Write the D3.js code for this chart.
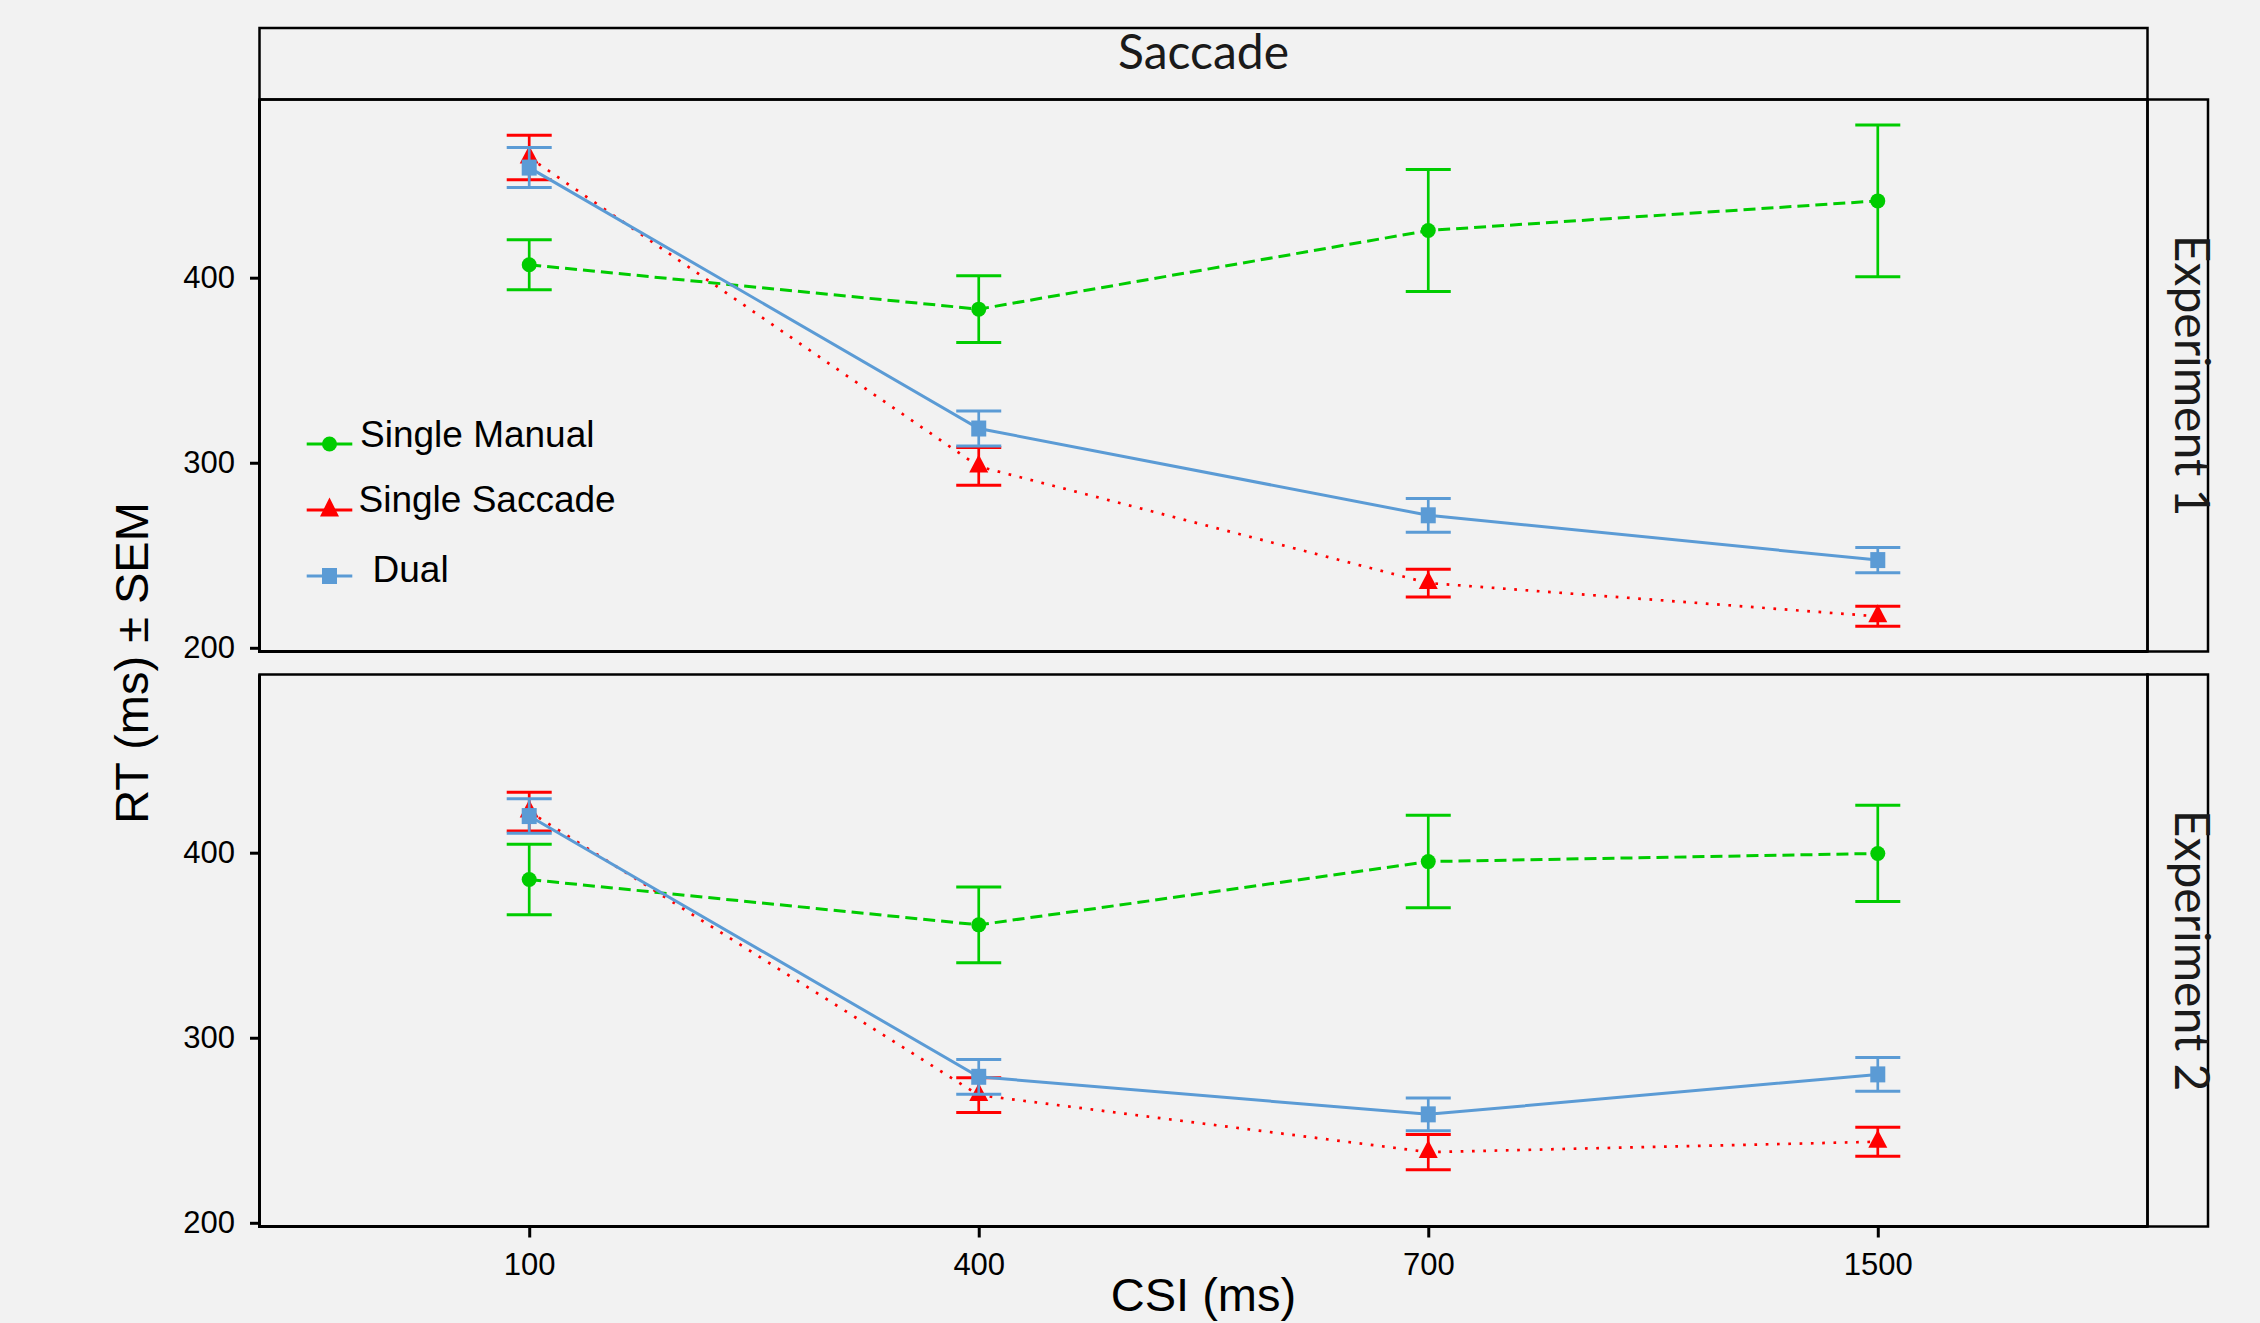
<!DOCTYPE html>
<html>
<head>
<meta charset="utf-8">
<script src="https://cdn.jsdelivr.net/npm/d3@7"></script>
<style>
  body { margin: 0; background: #f2f2f2; }
</style>
</head>
<body>
<div id="chart"></div>
<script>
// categories and labels
var csi = ["100", "400", "700", "1500"];
var seriesNames = ["Single Manual", "Single Saccade", "Dual"];
var panelNames = ["Experiment 1", "Experiment 2"];
var yTicks = [200, 300, 400];

// Experiment 1: mean RT and SEM
var exp1Manual = [407, 383, 425.5, 441.5];
var exp1ManualSem = [13.5, 18, 33, 41];
var exp1Saccade = [465, 298, 235, 217];
var exp1SaccadeSem = [12, 10.2, 7.5, 5.4];
var exp1Dual = [459.5, 318.5, 271.6, 247.4];
var exp1DualSem = [10.8, 9.4, 9.1, 6.8];

// Experiment 2: mean RT and SEM
var exp2Manual = [385.5, 361, 395.2, 399.6];
var exp2ManualSem = [19, 20.5, 25, 26];
var exp2Saccade = [422.2, 269, 238.2, 243.8];
var exp2SaccadeSem = [10.5, 9.4, 9.5, 7.9];
var exp2Dual = [419.8, 278.9, 258.6, 280.2];
var exp2DualSem = [9.3, 9.4, 8.8, 9.1];

function init() {
    var w = 2260;
    var h = 1323;
    var left = 259.5, right = 2147.5, stripRight = 2208;

    var styles = [
        { color: "#00cc00", dash: "12,6", width: 3, shape: "circle" },
        { color: "#ff0000", dash: "2.7,8.6", width: 2.7, shape: "triangle" },
        { color: "#5b9bd5", dash: null, width: 3, shape: "square" }
    ];

    var panels = [
        { top: 99.5, bottom: 651.5, means: [exp1Manual, exp1Saccade, exp1Dual],
          sems: [exp1ManualSem, exp1SaccadeSem, exp1DualSem] },
        { top: 674.5, bottom: 1226.5, means: [exp2Manual, exp2Saccade, exp2Dual],
          sems: [exp2ManualSem, exp2SaccadeSem, exp2DualSem] }
    ];

    var svg = d3.select("#chart")
        .append("svg")
        .attr("width", w)
        .attr("height", h)
        .style("background", "#f2f2f2");

    var x = d3.scalePoint()
        .domain(csi)
        .range([left, right])
        .padding(0.6);

    function marker(g, shape, color) {
        if (shape == "circle") {
            g.append("circle").attr("r", 7.5).attr("fill", color);
        } else if (shape == "triangle") {
            g.append("path").attr("d", "M0,-12L9.5,6L-9.5,6Z").attr("fill", color);
        } else {
            g.append("path").attr("d", "M-7.5,-8h15v16h-15Z").attr("fill", color);
        }
    }

    // top strip
    svg.append("rect")
        .attr("x", left).attr("y", 28)
        .attr("width", right - left).attr("height", 99.5 - 28)
        .attr("fill", "none").attr("stroke", "#000").attr("stroke-width", 2.5);
    svg.append("text")
        .attr("x", (left + right) / 2).attr("y", 69)
        .attr("text-anchor", "middle")
        .style("font-family", "Lato")
        .style("font-size", "48px")
        .attr("fill", "#1a1a1a")
        .text("Saccade");

    panels.forEach(function(p, pi) {
        var y = d3.scaleLinear()
            .domain([198, 496.3])
            .range([p.bottom, p.top]);

        // right strip
        svg.append("rect")
            .attr("x", right).attr("y", p.top)
            .attr("width", stripRight - right).attr("height", p.bottom - p.top)
            .attr("fill", "none").attr("stroke", "#000").attr("stroke-width", 2.5);
        svg.append("text")
            .attr("transform", "translate(2175," + ((p.top + p.bottom) / 2) + ") rotate(90)")
            .attr("text-anchor", "middle")
            .style("font-family", "Lato")
            .style("font-size", "48px")
            .attr("fill", "#1a1a1a")
            .text(panelNames[pi]);

        // panel frame
        svg.append("rect")
            .attr("x", left).attr("y", p.top)
            .attr("width", right - left).attr("height", p.bottom - p.top)
            .attr("fill", "none").attr("stroke", "#000").attr("stroke-width", 2.5);

        // y axis
        var yAxis = svg.append("g")
            .attr("transform", "translate(" + left + ",0)")
            .call(d3.axisLeft(y).tickValues(yTicks).tickSize(9.5).tickPadding(15));
        yAxis.select(".domain").remove();
        yAxis.selectAll("line").attr("stroke", "#000").attr("stroke-width", 3);
        yAxis.selectAll("text")
            .style("font-family", "Liberation Sans, Arial")
            .style("font-size", "31px")
            .attr("fill", "#000");
        svg.append("line")
            .attr("x1", left).attr("x2", left)
            .attr("y1", p.top).attr("y2", p.bottom + 1.5)
            .attr("stroke", "#000").attr("stroke-width", 3);
        svg.append("line")
            .attr("x1", left).attr("x2", right)
            .attr("y1", p.bottom).attr("y2", p.bottom)
            .attr("stroke", "#000").attr("stroke-width", 3);

        // series
        p.means.forEach(function(vals, si) {
            var st = styles[si];
            var sem = p.sems[si];
            var pts = vals.map(function(v, i) {
                return { c: csi[i], v: v, s: sem[i] };
            });

            var line = d3.line()
                .x(function(d) { return x(d.c); })
                .y(function(d) { return y(d.v); });

            svg.append("path")
                .datum(pts)
                .attr("d", line)
                .attr("fill", "none")
                .attr("stroke", st.color)
                .attr("stroke-width", st.width)
                .attr("stroke-dasharray", st.dash);

            var bars = svg.append("g").selectAll("g")
                .data(pts)
                .enter()
                .append("g");
            bars.append("line")
                .attr("x1", function(d) { return x(d.c); })
                .attr("x2", function(d) { return x(d.c); })
                .attr("y1", function(d) { return y(d.v - d.s); })
                .attr("y2", function(d) { return y(d.v + d.s); })
                .attr("stroke", st.color).attr("stroke-width", 2.7);
            [-1, 1].forEach(function(sign) {
                bars.append("line")
                    .attr("x1", function(d) { return x(d.c) - 22.5; })
                    .attr("x2", function(d) { return x(d.c) + 22.5; })
                    .attr("y1", function(d) { return y(d.v + sign * d.s); })
                    .attr("y2", function(d) { return y(d.v + sign * d.s); })
                    .attr("stroke", st.color).attr("stroke-width", 3);
            });

            pts.forEach(function(d) {
                var g = svg.append("g")
                    .attr("transform", "translate(" + x(d.c) + "," + y(d.v) + ")");
                marker(g, st.shape, st.color);
            });
        });

        // x axis on bottom panel only
        if (pi == 1) {
            var xAxis = svg.append("g")
                .attr("transform", "translate(0," + p.bottom + ")")
                .call(d3.axisBottom(x).tickSize(11).tickPadding(15.5));
            xAxis.select(".domain").remove();
            xAxis.selectAll("line").attr("stroke", "#000").attr("stroke-width", 3);
            xAxis.selectAll("text")
                .style("font-family", "Liberation Sans, Arial")
                .style("font-size", "31px")
                .attr("fill", "#000");
        }
    });

    // legend
    var legendY = [444, 510, 576];
    var legendTextY = [446.7, 511.7, 581.7];
    var legendTextX = [360, 358.5, 372.5];
    seriesNames.forEach(function(name, i) {
        var st = styles[i];
        svg.append("line")
            .attr("x1", 306.7).attr("x2", 352.3)
            .attr("y1", legendY[i]).attr("y2", legendY[i])
            .attr("stroke", st.color).attr("stroke-width", 3);
        var g = svg.append("g")
            .attr("transform", "translate(329.5," + legendY[i] + ")");
        if (st.shape == "triangle") {
            g.append("path").attr("d", "M0,-12.5L9.5,6.5L-9.5,6.5Z").attr("fill", st.color);
        } else {
            marker(g, st.shape, st.color);
        }
        svg.append("text")
            .attr("x", legendTextX[i]).attr("y", legendTextY[i])
            .style("font-family", "Liberation Sans, Arial")
            .style("font-size", "37px")
            .attr("fill", "#000")
            .text(name);
    });

    // axis titles
    svg.append("text")
        .attr("x", (left + right) / 2).attr("y", 1311)
        .attr("text-anchor", "middle")
        .style("font-family", "Liberation Sans, Arial")
        .style("font-size", "47px")
        .attr("fill", "#000")
        .text("CSI (ms)");
    svg.append("text")
        .attr("transform", "translate(148,663) rotate(-90)")
        .attr("text-anchor", "middle")
        .style("font-family", "Liberation Sans, Arial")
        .style("font-size", "47px")
        .attr("fill", "#000")
        .text("RT (ms) ± SEM");
}

window.onload = init;
</script>
</body>
</html>
